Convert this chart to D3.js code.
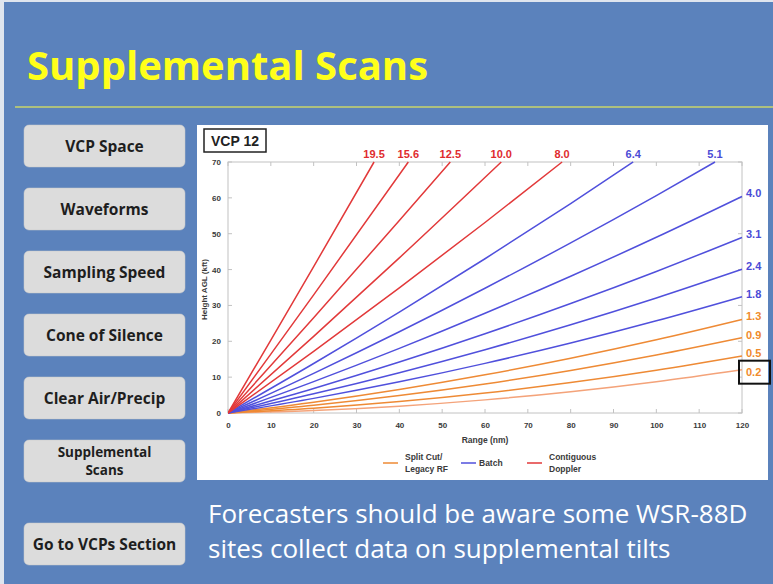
<!DOCTYPE html>
<html><head><meta charset="utf-8">
<script src="https://cdn.jsdelivr.net/npm/d3@7"></script>
<style>html,body{margin:0;padding:0;background:#5b82bc;}svg{display:block;}</style>
</head><body>
<svg id="c" width="773" height="584"></svg>
<script>
// ---- data ----
const tilts = ["0.2","0.5","0.9","1.3","1.8","2.4","3.1","4.0","5.1","6.4","8.0","10.0","12.5","15.6","19.5"];
const tiltGroup = ["split","split","split","split","batch","batch","batch","batch","batch","batch","contig","contig","contig","contig","contig"];
const beam02 = [[0,0],[20,0.69],[40,1.91],[60,3.66],[80,5.94],[100,8.74],[120,12.08]];
const beam05 = [[0,0],[20,1.33],[40,3.18],[60,5.57],[80,8.48],[100,11.93],[120,15.90]];
const beam09 = [[0,0],[20,2.17],[40,4.88],[60,8.11],[80,11.87],[100,16.17],[120,20.99]];
const beam13 = [[0,0],[20,3.02],[40,6.57],[60,10.66],[80,15.27],[100,20.41],[120,26.08]];
const beam18 = [[0,0],[20,4.08],[40,8.69],[60,13.84],[80,19.51],[100,25.71],[120,32.44]];
const beam24 = [[0,0],[20,5.35],[40,11.24],[60,17.65],[80,24.59],[100,32.07],[120,40.07]];
const beam31 = [[0,0],[20,6.84],[40,14.20],[60,22.10],[80,30.53],[100,39.48],[120,48.97]];
const beam40 = [[0,0],[20,8.74],[40,18.01],[60,27.81],[80,38.15],[100,49.01],[120,60.40]];
const beam51 = [[0,0],[20,11.07],[40,22.66],[60,34.79],[80,47.45],[100,60.64],[113.7,70]];
const beam64 = [[0,0],[20,13.81],[40,28.15],[60,43.02],[80,58.42],[94.6,70]];
const beam80 = [[0,0],[20,17.18],[40,34.89],[60,53.12],[78.0,70]];
const beam100 = [[0,0],[20,21.37],[40,43.26],[63.8,70]];
const beam125 = [[0,0],[10,13.22],[20,26.57],[40,53.66],[51.9,70]];
const beam156 = [[0,0],[10,16.41],[20,32.94],[42.1,70]];
const beam195 = [[0,0],[10,20.35],[20,40.83],[34.1,70]];
const beams = [beam02,beam05,beam09,beam13,beam18,beam24,beam31,beam40,beam51,beam64,beam80,beam100,beam125,beam156,beam195];
const xTicks = [0,10,20,30,40,50,60,70,80,90,100,110,120];
const yTicks = [0,10,20,30,40,50,60,70];
const legendKeys = ["split","batch","contig"];
const legendLabels = [["Split Cut/","Legacy RF"],["Batch"],["Contiguous","Doppler"]];
const menuItems = [["VCP Space"],["Waveforms"],["Sampling Speed"],["Cone of Silence"],["Clear Air/Precip"],["Supplemental","Scans"],["Go to VCPs Section"]];
const bodyLines = ["Forecasters should be aware some WSR-88D","sites collect data on supplemental tilts"];

// ---- styling ----
const lineColor = {split:"#ee8a35", batch:"#5050dc", contig:"#e2393a"};
const labelColor = {split:"#ef8a2c", batch:"#4b4bd6", contig:"#e02b2e"};

const svg = d3.select("#c");
svg.append("rect").attr("x",0).attr("y",0).attr("width",773).attr("height",584).attr("fill","#5b82bc");
svg.append("line").attr("x1",0).attr("x2",773).attr("y1",1).attr("y2",1).attr("stroke","#dfe5ee").attr("stroke-width",2);
svg.append("line").attr("x1",2).attr("x2",2).attr("y1",0).attr("y2",584).attr("stroke","#dfe5ee").attr("stroke-width",4);

// title
svg.append("text").attr("x",27).attr("y",80).text("Supplemental Scans")
  .attr("font-family","Open Sans").attr("font-weight",700).attr("font-size",40).attr("fill","#ffff1a");
svg.append("line").attr("x1",15).attr("x2",773).attr("y1",107).attr("y2",107).attr("stroke","#c8d46a").attr("stroke-width",1.5);

// menu buttons
const btnY = [125,188,251,314,377,440,523];
menuItems.forEach((lines,i)=>{
  const g = svg.append("g");
  g.append("rect").attr("x",24).attr("y",btnY[i]).attr("width",161).attr("height",42).attr("rx",5)
    .attr("fill","#dcdcdc").attr("stroke","#c8c8c8").attr("stroke-width",0.5);
  const fs = lines.length>1?13.5:15.5;
  const t = g.append("text").attr("text-anchor","middle").attr("font-family","Open Sans").attr("font-weight",700)
    .attr("font-size",fs).attr("fill","#1e1e1e");
  if(lines.length===1){
    t.append("tspan").attr("x",104.5).attr("y",btnY[i]+27).text(lines[0]);
  } else {
    t.append("tspan").attr("x",104.5).attr("y",btnY[i]+17).text(lines[0]);
    t.append("tspan").attr("x",104.5).attr("y",btnY[i]+35).text(lines[1]);
  }
});

// body text
bodyLines.forEach((s,i)=>{
  svg.append("text").attr("x",208).attr("y",523+i*35).text(s)
    .attr("font-family","Open Sans").attr("font-size",26).attr("fill","#ffffff");
});

// chart panel
svg.append("rect").attr("x",197).attr("y",125).attr("width",571).attr("height",355).attr("fill","#ffffff");

// VCP box
svg.append("rect").attr("x",204).attr("y",129).attr("width",62).attr("height",23).attr("fill","#fff").attr("stroke","#222").attr("stroke-width",1.5);
svg.append("text").attr("x",235).attr("y",146).attr("text-anchor","middle").text("VCP 12")
  .attr("font-family","Liberation Sans, Arial").attr("font-weight",700).attr("font-size",14).attr("fill","#222");

const x = d3.scaleLinear().domain([0,120]).range([228,742]);
const y = d3.scaleLinear().domain([0,70]).range([413,162]);
const axisCol = "#c2c2c2";
const tickFont = "Liberation Sans, Arial";

// frame
const fr = svg.append("g");
fr.append("rect").attr("x",x(0)).attr("y",y(70)).attr("width",x(120)-x(0)).attr("height",y(0)-y(70))
  .attr("fill","none").attr("stroke",axisCol).attr("stroke-width",1);
xTicks.forEach(v=>{
  fr.append("line").attr("x1",x(v)).attr("x2",x(v)).attr("y1",y(70)).attr("y2",y(70)+4).attr("stroke",axisCol);
  fr.append("line").attr("x1",x(v)).attr("x2",x(v)).attr("y1",y(0)).attr("y2",y(0)-4).attr("stroke",axisCol);
});
yTicks.forEach(v=>{
  fr.append("line").attr("x1",x(0)).attr("x2",x(0)+4).attr("y1",y(v)).attr("y2",y(v)).attr("stroke",axisCol);
  fr.append("line").attr("x1",x(120)).attr("x2",x(120)-4).attr("y1",y(v)).attr("y2",y(v)).attr("stroke",axisCol);
});

const xAxis = svg.append("g").attr("transform",`translate(0,${y(0)})`)
  .call(d3.axisBottom(x).tickValues(xTicks).tickSize(0).tickPadding(9));
const yAxis = svg.append("g").attr("transform",`translate(${x(0)},0)`)
  .call(d3.axisLeft(y).tickValues(yTicks).tickSize(0).tickPadding(7));
[xAxis,yAxis].forEach(a=>{
  a.select(".domain").remove();
  a.selectAll("text").attr("font-family",tickFont).attr("font-weight",700).attr("font-size",8).attr("fill","#3a3a3a");
});

svg.append("text").attr("x",485).attr("y",443).attr("text-anchor","middle").text("Range (nm)")
  .attr("font-family",tickFont).attr("font-weight",700).attr("font-size",8.5).attr("fill","#3a3a3a");
svg.append("text").attr("transform",`translate(207,${(y(0)+y(70))/2+2}) rotate(-90)`).attr("text-anchor","middle")
  .text("Height AGL (kft)").attr("font-family",tickFont).attr("font-weight",700).attr("font-size",8).attr("fill","#3a3a3a");

// beams
const line = d3.line().x(d=>x(d[0])).y(d=>y(d[1])).curve(d3.curveMonotoneX);
svg.append("clipPath").attr("id","pc").append("rect")
  .attr("x",x(0)).attr("y",y(70)-1).attr("width",x(120)-x(0)+1).attr("height",y(0)-y(70)+2);
const bg = svg.append("g").attr("clip-path","url(#pc)");
beams.forEach((b,i)=>{
  bg.append("path").attr("d",line(b)).attr("fill","none")
    .attr("stroke", i===0 ? "#f4a37a" : lineColor[tiltGroup[i]]).attr("stroke-width",1.5);
});

// labels
beams.forEach((b,i)=>{
  const last = b[b.length-1];
  const t = svg.append("text").text(tilts[i]).attr("font-family",tickFont).attr("font-weight",700)
    .attr("font-size",11).attr("fill",labelColor[tiltGroup[i]]);
  if(last[0] >= 120){
    t.attr("x",x(120)+4).attr("y",y(last[1])+(i===0?6:1)).attr("text-anchor","start");
  } else {
    t.attr("x",x(last[0])).attr("y",y(70)-4).attr("text-anchor","middle");
  }
});
const b0 = beams[0][beams[0].length-1];
svg.append("rect").attr("x",x(120)-3).attr("y",y(b0[1])-9).attr("width",31).attr("height",23)
  .attr("fill","none").attr("stroke","#111").attr("stroke-width",2);

// legend
const legX = [383,461,527];
legendKeys.forEach((k,i)=>{
  svg.append("line").attr("x1",legX[i]).attr("x2",legX[i]+15).attr("y1",463).attr("y2",463)
    .attr("stroke",lineColor[k]).attr("stroke-width",1.5);
  const lab = legendLabels[i];
  const t = svg.append("text").attr("font-family",tickFont).attr("font-weight",700).attr("font-size",8.5).attr("fill","#3a3a3a");
  if(lab.length===1){
    t.append("tspan").attr("x",legX[i]+18).attr("y",466).text(lab[0]);
  } else {
    t.append("tspan").attr("x",legX[i]+22).attr("y",460).text(lab[0]);
    t.append("tspan").attr("x",legX[i]+22).attr("y",472).text(lab[1]);
  }
});
</script>
</body></html>
